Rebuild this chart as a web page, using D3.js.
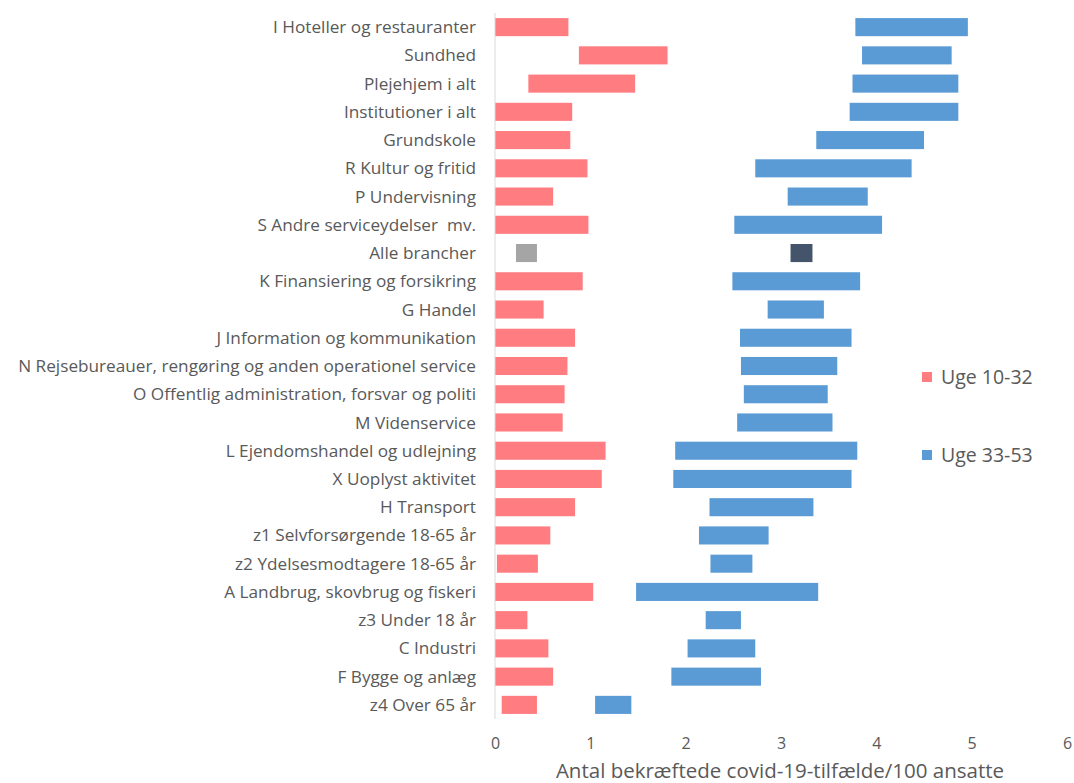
<!DOCTYPE html>
<html>
<head>
<meta charset="utf-8">
<script src="https://cdn.jsdelivr.net/npm/d3@7"></script>
<style>
  body { margin: 0; background: #fff; }
  text { font-family: "Open Sans", sans-serif; fill: #595959; }
</style>
</head>
<body>
<div id="chart"></div>
<script>
// categories, top to bottom
var categories = [
    "I Hoteller og restauranter", "Sundhed", "Plejehjem i alt", "Institutioner i alt",
    "Grundskole", "R Kultur og fritid", "P Undervisning", "S Andre serviceydelser  mv.",
    "Alle brancher", "K Finansiering og forsikring", "G Handel",
    "J Information og kommunikation",
    "N Rejsebureauer, rengøring og anden operationel service",
    "O Offentlig administration, forsvar og politi", "M Videnservice",
    "L Ejendomshandel og udlejning", "X Uoplyst aktivitet", "H Transport",
    "z1 Selvforsørgende 18-65 år", "z2 Ydelsesmodtagere 18-65 år",
    "A Landbrug, skovbrug og fiskeri", "z3 Under 18 år", "C Industri",
    "F Bygge og anlæg", "z4 Over 65 år"
];

// Uge 10-32: start / end
var early_start = [0, 0.88, 0.35, 0, 0, 0, 0, 0, 0.22, 0, 0, 0, 0, 0, 0, 0, 0, 0, 0, 0.02, 0, 0, 0, 0, 0.07];
var early_end = [0.77, 1.81, 1.47, 0.81, 0.79, 0.97, 0.61, 0.98, 0.44, 0.92, 0.51, 0.84, 0.76, 0.73, 0.71, 1.16, 1.12, 0.84, 0.58, 0.45, 1.03, 0.34, 0.56, 0.61, 0.44];

// Uge 33-53: start / end
var late_start = [3.78, 3.85, 3.75, 3.72, 3.37, 2.73, 3.07, 2.51, 3.10, 2.49, 2.86, 2.57, 2.58, 2.61, 2.54, 1.89, 1.87, 2.25, 2.14, 2.26, 1.48, 2.21, 2.02, 1.85, 1.05];
var late_end = [4.96, 4.79, 4.86, 4.86, 4.50, 4.37, 3.91, 4.06, 3.33, 3.83, 3.45, 3.74, 3.59, 3.49, 3.54, 3.80, 3.74, 3.34, 2.87, 2.70, 3.39, 2.58, 2.73, 2.79, 1.43];

var xTicks = [0, 1, 2, 3, 4, 5, 6];
var seriesNames = ["Uge 10-32", "Uge 33-53"];
var totalLabel = "Alle brancher";

var width = 1074, height = 783;
var margin = { top: 13, right: 7, bottom: 64, left: 495 };

var svg = d3.select("#chart")
    .append("svg")
    .attr("width", width)
    .attr("height", height);

var y = d3.scaleBand()
    .domain(categories)
    .range([margin.top, height - margin.bottom])
    .paddingInner(0.36)
    .paddingOuter(0.18);

var x = d3.scaleLinear()
    .domain([0, 6])
    .range([margin.left, width - margin.right]);

var red = "#FF7C80", blue = "#5B9BD5";

var early = categories.map(function (c, i) { return { cat: c, a: early_start[i], b: early_end[i] }; });
var late = categories.map(function (c, i) { return { cat: c, a: late_start[i], b: late_end[i] }; });

svg.append("g").selectAll("rect")
    .data(early)
    .enter().append("rect")
    .attr("x", function (d) { return x(d.a); })
    .attr("y", function (d) { return y(d.cat); })
    .attr("width", function (d) { return x(d.b) - x(d.a); })
    .attr("height", y.bandwidth())
    .attr("fill", function (d) { return d.cat == totalLabel ? "#A5A5A5" : red; });

svg.append("g").selectAll("rect")
    .data(late)
    .enter().append("rect")
    .attr("x", function (d) { return x(d.a); })
    .attr("y", function (d) { return y(d.cat); })
    .attr("width", function (d) { return x(d.b) - x(d.a); })
    .attr("height", y.bandwidth())
    .attr("fill", function (d) { return d.cat == totalLabel ? "#44546A" : blue; });

// vertical axis line + category labels
svg.append("line")
    .attr("x1", x(0)).attr("x2", x(0))
    .attr("y1", margin.top).attr("y2", height - margin.bottom)
    .attr("stroke", "#d9d9d9");

svg.append("g").selectAll("text")
    .data(categories)
    .enter().append("text")
    .attr("x", x(0) - 19)
    .attr("y", function (d) { return y(d) + y.bandwidth() / 2; })
    .attr("dy", "0.35em")
    .attr("text-anchor", "end")
    .style("font-size", "17.2px")
    .style("white-space", "pre")
    .text(function (d) { return d; });

// x tick labels
var xAxis = svg.append("g")
    .attr("transform", "translate(0," + (height - margin.bottom) + ")")
    .call(d3.axisBottom(x).tickValues(xTicks).tickSize(0).tickPadding(19).tickFormat(d3.format("d")));
xAxis.select(".domain").remove();
xAxis.selectAll("text").style("font-size", "16px").style("font-family", "'Open Sans', sans-serif").attr("fill", "#595959");

svg.append("text")
    .attr("x", 780)
    .attr("y", 778)
    .attr("text-anchor", "middle")
    .style("font-size", "20.5px")
    .text("Antal bekræftede covid-19-tilfælde/100 ansatte");

// legend
var legend = svg.append("g").selectAll("g")
    .data(seriesNames)
    .enter().append("g")
    .attr("transform", function (d, i) { return "translate(922," + (372 + i * 78) + ")"; });

legend.append("rect")
    .attr("width", 10).attr("height", 10)
    .attr("fill", function (d, i) { return i == 0 ? red : blue; });

legend.append("text")
    .attr("x", 19).attr("y", 5)
    .attr("dy", "0.35em")
    .style("font-size", "19.5px")
    .text(function (d) { return d; });
</script>
</body>
</html>
